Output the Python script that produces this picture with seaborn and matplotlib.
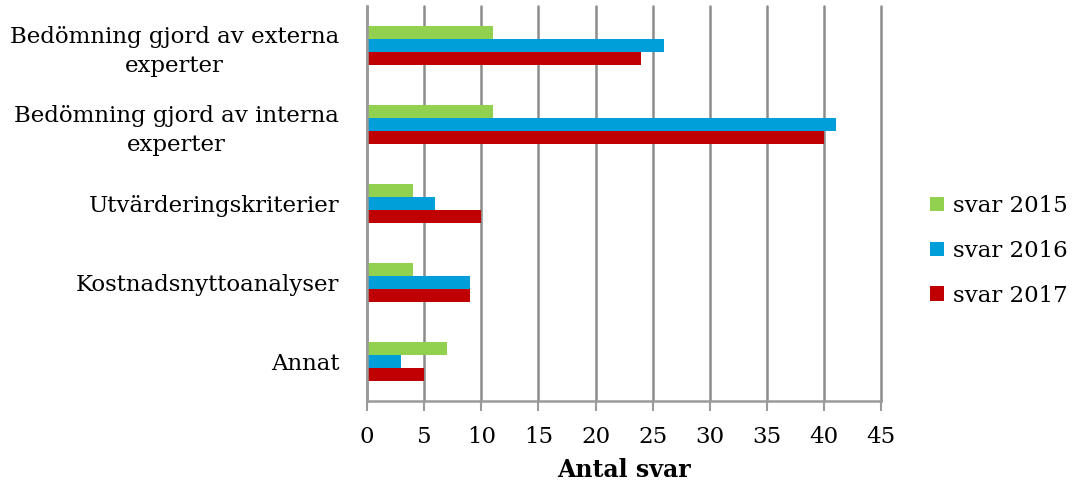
import numpy as np
import pandas as pd
import matplotlib
matplotlib.use("Agg")
import matplotlib.pyplot as plt
import seaborn as sns

categories = [
    "Bedömning gjord av externa\nexperter",
    "Bedömning gjord av interna\nexperter",
    "Utvärderingskriterier",
    "Kostnadsnyttoanalyser",
    "Annat",
]
series = ["svar 2015", "svar 2016", "svar 2017"]
svar_2015 = [11, 11, 4, 4, 7]
svar_2016 = [26, 41, 6, 9, 3]
svar_2017 = [24, 40, 10, 9, 5]
colors = ["#92D050", "#009FDA", "#C00000"]

df = pd.DataFrame({
    "kategori": categories * 3,
    "serie": [s for s in series for _ in categories],
    "antal": svar_2015 + svar_2016 + svar_2017,
})

sns.set_style("white")
plt.rcParams["font.family"] = ["DejaVu Serif"]
plt.rcParams["text.color"] = "black"
plt.rcParams["axes.labelcolor"] = "black"

fig, ax = plt.subplots(figsize=(10.76, 4.88), dpi=100)
fig.subplots_adjust(left=0.341, right=0.819, top=0.988, bottom=0.178)

sns.barplot(df, y="kategori", x="antal", hue="serie", palette=colors,
            order=categories, hue_order=series, orient="h", width=0.5,
            saturation=1, linewidth=0, ax=ax)

ax.set_xlim(0, 45)
ax.set_ylim(4.5, -0.5)
ax.set_xticks(np.arange(0, 46, 5))
ax.grid(axis="x", color="#8c8c8c", linewidth=1.8)
ax.set_axisbelow(True)
for gl in ax.get_xgridlines():
    gl.set_clip_on(False)
for s in ["top", "right"]:
    ax.spines[s].set_visible(False)
for s in ["left", "bottom"]:
    ax.spines[s].set_color("#9a9a9a")
    ax.spines[s].set_linewidth(1.8)
ax.tick_params(axis="x", bottom=True, length=7, width=1.5, color="#9a9a9a",
               labelsize=16.5, pad=11, labelcolor="black")
ax.tick_params(axis="y", length=0, labelsize=16.5, pad=20, labelcolor="black")
for t in ax.get_yticklabels():
    t.set_multialignment("center")
    t.set_linespacing(1.4)

ax.set_xlabel("Antal svar", fontsize=17, fontweight="bold", labelpad=7)
ax.set_ylabel("")

ax.legend(loc="center left", bbox_to_anchor=(1.055, 0.38), frameon=False,
          fontsize=16.5, handlelength=0.6, handleheight=0.6, labelspacing=1.0,
          handletextpad=0.4)

fig.savefig("out.png", dpi=100)
